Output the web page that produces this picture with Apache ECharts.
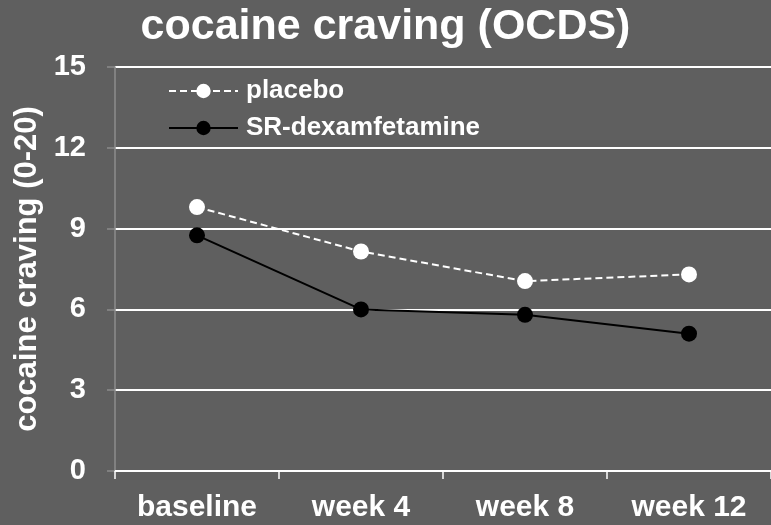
<!DOCTYPE html>
<html>
<head>
<meta charset="utf-8">
<script src="https://cdn.jsdelivr.net/npm/echarts@6/dist/echarts.min.js"></script>
<style>
  html, body { margin: 0; padding: 0; background: #5f5f5f; }
  #chart { width: 771px; height: 525px; }
</style>
</head>
<body>
<div id="chart"></div>
<script>
// Visits and mean OCDS craving scores per treatment arm
const categories = ['baseline', 'week 4', 'week 8', 'week 12'];
const placebo = [9.8, 8.15, 7.05, 7.3];
const dexamfetamine = [8.75, 6.0, 5.8, 5.1];
const yTicks = { min: 0, max: 15, interval: 3 };

const font = '"Liberation Sans", Arial, sans-serif';
const chart = echarts.init(document.getElementById('chart'));
chart.setOption({
  backgroundColor: '#5f5f5f',
  animation: false,
  title: {
    text: 'cocaine craving (OCDS)',
    left: 'center',
    top: 6,
    padding: 0,
    textStyle: { color: '#fff', fontFamily: font, fontWeight: 'bold', fontSize: 43 }
  },
  legend: {
    orient: 'vertical',
    left: 168,
    top: 78,
    padding: 0,
    itemWidth: 69,
    itemHeight: 18,
    itemGap: 11,
    textStyle: { color: '#fff', fontFamily: font, fontWeight: 'bold', fontSize: 26, padding: [0, 0, 0, 3] },
    data: ['placebo', 'SR-dexamfetamine']
  },
  grid: { left: 115, right: -4, top: 67, bottom: 54, containLabel: false },
  xAxis: {
    type: 'category',
    data: categories,
    boundaryGap: true,
    axisLine: { lineStyle: { color: '#fff', width: 2 } },
    axisTick: { show: true, length: 8, lineStyle: { color: '#fff', width: 1.5 } },
    axisLabel: { color: '#fff', fontFamily: font, fontWeight: 'bold', fontSize: 30, margin: 22 }
  },
  yAxis: {
    type: 'value',
    min: yTicks.min,
    max: yTicks.max,
    interval: yTicks.interval,
    name: 'cocaine craving (0-20)',
    nameLocation: 'middle',
    nameGap: 70,
    nameTextStyle: { color: '#fff', fontFamily: font, fontWeight: 'bold', fontSize: 31 },
    axisLine: { show: true, lineStyle: { color: '#8c8c8c', width: 1.5 } },
    axisTick: { show: true, length: 8, lineStyle: { color: '#8c8c8c', width: 1.5 } },
    axisLabel: { color: '#fff', fontFamily: font, fontWeight: 'bold', fontSize: 29, margin: 29 },
    splitLine: { lineStyle: { color: '#fff', width: 2 } }
  },
  series: [
    {
      name: 'placebo',
      type: 'line',
      data: placebo,
      symbol: 'circle',
      symbolSize: 16,
      itemStyle: { color: '#fff' },
      lineStyle: { color: '#fff', width: 2, type: [7, 4] },
      z: 3
    },
    {
      name: 'SR-dexamfetamine',
      type: 'line',
      data: dexamfetamine,
      symbol: 'circle',
      symbolSize: 16,
      itemStyle: { color: '#000' },
      lineStyle: { color: '#000', width: 2 },
      z: 4
    }
  ]
});
</script>
</body>
</html>
